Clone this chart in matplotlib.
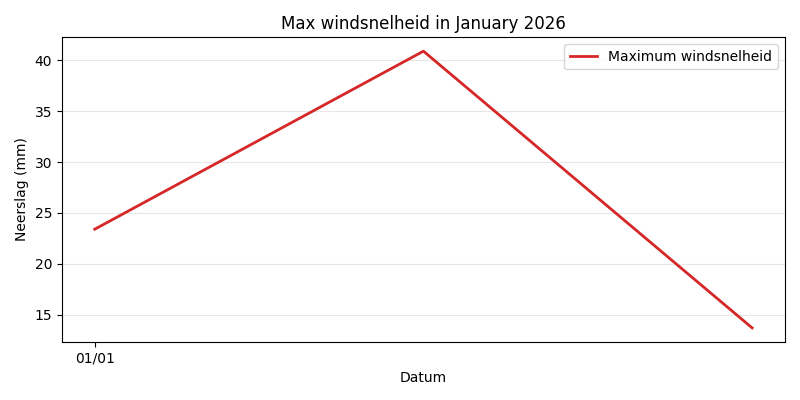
import matplotlib
matplotlib.use("Agg")
import matplotlib.pyplot as plt
import matplotlib.dates as mdates
import pandas as pd

dates = pd.to_datetime(["2026-01-01 00:00", "2026-01-01 08:00", "2026-01-01 16:00"])
max_wind = [23.4, 40.9, 13.7]

fig, ax = plt.subplots(figsize=(8, 4), dpi=100)
ax.plot(dates, max_wind, color="#d62728", linewidth=2, label="Maximum windsnelheid")
ax.set_title("Max windsnelheid in January 2026")
ax.set_xlabel("Datum")
ax.set_ylabel("Neerslag (mm)")
ax.xaxis.set_major_locator(mdates.DayLocator())
ax.xaxis.set_major_formatter(mdates.DateFormatter("%d/%m"))
ax.grid(axis="y", alpha=0.3)
ax.legend(loc="upper right")
fig.tight_layout()
fig.savefig("out.png", dpi=100)
